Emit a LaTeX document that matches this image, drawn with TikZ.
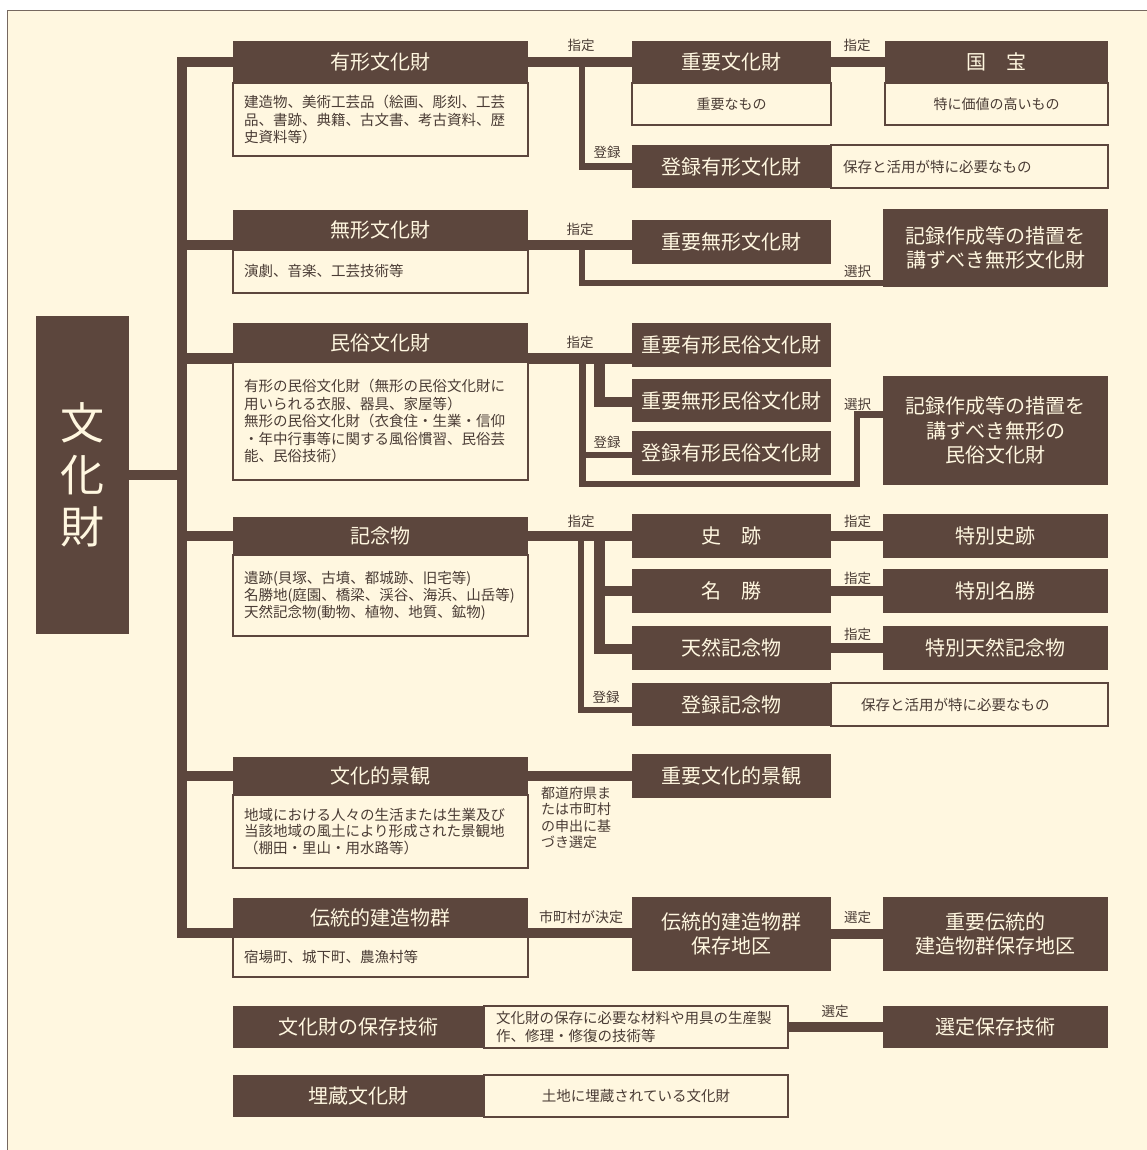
\documentclass[tikz,border=0pt]{standalone}
\usepackage{fontspec}
\setmainfont{Noto Sans CJK JP}
\definecolor{brn}{HTML}{5C463D}
\definecolor{crm}{HTML}{FFF7E0}
\definecolor{txt}{HTML}{4A3C35}
\definecolor{frm}{HTML}{766860}
\pgfdeclarelayer{bg}
\pgfdeclarelayer{lines}
\pgfsetlayers{bg,lines,main}
\begin{document}
\begin{tikzpicture}[x=1pt,y=-1pt,
  hdr/.style={fill=brn, text=crm, inner sep=0pt, align=center, font=\fontsize{20}{24}\selectfont},
  dsc/.style={fill=crm, draw=brn, line width=2pt, text=txt, inner sep=0pt, align=center, font=\fontsize{14.5}{17.5}\selectfont},
  lbl/.style={text=txt, inner sep=0pt, font=\fontsize{13.5}{16}\selectfont},
  sz/.style 2 args={minimum width=#1pt, minimum height=#2pt},
  bus/.style={draw=brn, line width=10.5pt, line join=miter},
  drop/.style={draw=brn, line width=6.5pt, line join=miter}]

\useasboundingbox (0,0) rectangle (1147,1150);
\begin{pgfonlayer}{bg}
  \fill[white] (0,0) rectangle (1147,1150);
  \clip (0,0) rectangle (1147,1150);
  \draw[frm, line width=1.5pt, fill=crm] (7.5,10.5) rectangle (1170,1170);
\end{pgfonlayer}

% ---- root
\node[hdr, sz={93}{318}, font=\fontsize{44}{52}\selectfont] (bunka) at (82.5,475) {文\\化\\財};

% ---- category description boxes
\node[dsc, sz={295}{73}, align=left, text width=273pt, inner xsep=11pt] (yukeiD) at (380.5,119.5)
  {建造物、美術工芸品（絵画、彫刻、工芸\\品、書跡、典籍、古文書、考古資料、歴\\史資料等）};
\node[dsc, sz={295}{43}, align=left, text width=273pt, inner xsep=11pt] (mukeiD) at (380.5,271.5)
  {演劇、音楽、工芸技術等};
\node[dsc, sz={295}{118}, align=left, text width=273pt, inner xsep=11pt] (minzokuD) at (380.5,421)
  {有形の民俗文化財（無形の民俗文化財に\\用いられる衣服、器具、家屋等）\\無形の民俗文化財（衣食住・生業・信仰\\・年中行事等に関する風俗慣習、民俗芸\\能、民俗技術）};
\node[dsc, sz={295}{81}, align=left, text width=273pt, inner xsep=11pt, font=\fontsize{14.5}{17}\selectfont] (kinenD) at (380.5,595.5)
  {遺跡(貝塚、古墳、都城跡、旧宅等)\\名勝地(庭園、橋梁、渓谷、海浜、山岳等)\\天然記念物(動物、植物、地質、鉱物)};
\node[dsc, sz={295}{73}, align=left, text width=273pt, inner xsep=11pt, font=\fontsize{14.5}{16.8}\selectfont] (keikanD) at (380.5,831.5)
  {地域における人々の生活または生業及び\\当該地域の風土により形成された景観地\\（棚田・里山・用水路等）};
\node[dsc, sz={295}{40}, align=left, text width=273pt, inner xsep=11pt] (dentoD) at (380.5,957)
  {宿場町、城下町、農漁村等};

% ---- category headers
\node[hdr, sz={295}{42}] (yukeiH) at (380.5,62) {有形文化財};
\node[hdr, sz={295}{40}] (mukeiH) at (380.5,230) {無形文化財};
\node[hdr, sz={295}{39}] (minzokuH) at (380.5,342.5) {民俗文化財};
\node[hdr, sz={295}{38}] (kinenH) at (380.5,536) {記念物};
\node[hdr, sz={295}{38}] (keikanH) at (380.5,776) {文化的景観};
\node[hdr, sz={295}{39}] (dentoH) at (380.5,917.5) {伝統的建造物群};

% ---- middle column
\node[dsc, sz={199}{42}, font=\fontsize{14}{17}\selectfont] (juyoD) at (731.5,104) {重要なもの};
\node[hdr, sz={199}{42}] (juyoH) at (731.5,62) {重要文化財};
\node[hdr, sz={199}{43}] (tourokuY) at (731.5,166.5) {登録有形文化財};
\node[dsc, sz={277}{43}, align=left, text width=253pt, inner xsep=12pt] (tourokuYD) at (969.5,166.5) {保存と活用が特に必要なもの};
\node[hdr, sz={199}{44}] (juyoMukei) at (731.5,242) {重要無形文化財};
\node[hdr, sz={199}{44}] (jYM) at (731.5,345) {重要有形民俗文化財};
\node[hdr, sz={199}{43}] (jMM) at (731.5,400.5) {重要無形民俗文化財};
\node[hdr, sz={199}{44}] (tMinzoku) at (731.5,453) {登録有形民俗文化財};
\node[hdr, sz={199}{44}] (shiseki) at (731.5,536) {史　跡};
\node[hdr, sz={199}{44}] (meisho) at (731.5,591) {名　勝};
\node[hdr, sz={199}{44}] (tennen) at (731.5,648) {天然記念物};
\node[hdr, sz={199}{43}] (tKinen) at (731.5,704.5) {登録記念物};
\node[dsc, sz={277}{43}, align=left, text width=217pt, inner xsep=30pt] (tKinenD) at (969.5,704.5) {保存と活用が特に必要なもの};
\node[hdr, sz={199}{44}] (jKeikan) at (731.5,776) {重要文化的景観};
\node[hdr, sz={199}{74}] (hozonChiku) at (731.5,934) {伝統的建造物群\\保存地区};

% ---- right column
\node[dsc, sz={223}{42}, font=\fontsize{14}{17}\selectfont] (kokuhoD) at (996.5,104) {特に価値の高いもの};
\node[hdr, sz={223}{42}] (kokuhoH) at (996.5,62) {国　宝};
\node[hdr, sz={225}{78}] (kirokuM) at (995.5,248) {記録作成等の措置を\\講ずべき無形文化財};
\node[hdr, sz={225}{109}, font=\fontsize{20}{24.5}\selectfont] (kirokuMin) at (995.5,430.5) {記録作成等の措置を\\講ずべき無形の\\民俗文化財};
\node[hdr, sz={225}{44}] (tokuShiseki) at (995.5,536) {特別史跡};
\node[hdr, sz={225}{44}] (tokuMeisho) at (995.5,591) {特別名勝};
\node[hdr, sz={225}{44}] (tokuTennen) at (995.5,648) {特別天然記念物};
\node[hdr, sz={225}{74}] (jDento) at (995.5,934) {重要伝統的\\建造物群保存地区};

% ---- bottom rows
\node[dsc, sz={304}{42}, align=left, text width=280pt, inner xsep=12pt, font=\fontsize{14.5}{18}\selectfont] (hozonGD) at (636,1027)
  {文化財の保存に必要な材料や用具の生産製\\作、修理・修復の技術等};
\node[hdr, sz={251}{42}] (hozonGH) at (358.5,1027) {文化財の保存技術};
\node[hdr, sz={225}{42}] (senteiG) at (995.5,1027) {選定保存技術};
\node[dsc, sz={304}{42}] (maizoD) at (636,1096) {土地に埋蔵されている文化財};
\node[hdr, sz={251}{42}] (maizoH) at (358.5,1096) {埋蔵文化財};

% ---- labels
\node[lbl] (l1) at (581,45.5) {指定};
\node[lbl] (l2) at (857,45.5) {指定};
\node[lbl] (l3) at (607,152) {登録};
\node[lbl] (l4) at (580,229) {指定};
\node[lbl] (l5) at (857.5,271) {選択};
\node[lbl] (l6) at (580,342) {指定};
\node[lbl] (l7) at (607,442) {登録};
\node[lbl] (l8) at (857.5,404) {選択};
\node[lbl] (l9) at (581,521) {指定};
\node[lbl] (l10) at (857.5,521) {指定};
\node[lbl] (l11) at (857.5,578) {指定};
\node[lbl] (l12) at (857.5,634) {指定};
\node[lbl] (l13) at (606,697) {登録};
\node[lbl, align=left, anchor=west, font=\fontsize{14}{16.5}\selectfont] (l14) at (541,817.5) {都道府県ま\\たは市町村\\の申出に基\\づき選定};
\node[lbl, font=\fontsize{14}{16}\selectfont] (l15) at (581,917) {市町村が決定};
\node[lbl] (l16) at (857.5,917) {選定};
\node[lbl] (l17) at (835,1011) {選定};

% ---- connectors
\begin{pgfonlayer}{lines}
  \coordinate (tBot) at (182,933);
  \coordinate (tMu) at (182,245);
  \coordinate (tMin) at (182,358.5);
  \draw[bus] (yukeiH.west) -| (tBot) -- (tBot -| dentoH.west);
  \draw[bus] (bunka.east) -- (bunka.east -| tBot);
  \draw[bus] (tMu) -- (tMu -| mukeiH.west);
  \draw[bus] (tMin) -- (tMin -| minzokuH.west);
  \draw[bus] (kinenH.west -| tBot) -- (kinenH.west);
  \draw[bus] (keikanH.west -| tBot) -- (keikanH.west);
  % yukei
  \draw[bus] (yukeiH.east) -- (juyoH.west);
  \draw[bus] (juyoH.east) -- (kokuhoH.west);
  \coordinate (dY) at (582,62);
  \draw[drop] (dY) |- (tourokuY.west);
  % mukei
  \draw[bus] (mukeiH.east |- tMu) -- (juyoMukei.west |- tMu);
  \coordinate (dMu) at (582,245);
  \coordinate (dMuB) at (582,283);
  \draw[drop] (dMu) -- (dMuB) -- (dMuB -| kirokuM.west);
  % minzoku
  \draw[bus] (minzokuH.east |- tMin) -- (jYM.west |- tMin);
  \coordinate (dMi) at (582.5,358.5);
  \coordinate (dMiB) at (582.5,484);
  \coordinate (dMiR) at (857,484);
  \coordinate (dMiT) at (857,414.5);
  \draw[drop] (dMi) -- (dMiB) -- (dMiR) -- (dMiT) -- (dMiT -| kirokuMin.west);
  \coordinate (dMiL) at (582.5,455);
  \draw[drop] (dMiL) -- (dMiL -| tMinzoku.west);
  \coordinate (iMi) at (599.5,358.5);
  \coordinate (iMiB) at (599.5,402);
  \draw[bus] (iMi) -- (iMiB) -- (iMiB -| jMM.west);
  % kinen
  \draw[bus] (kinenH.east) -- (shiseki.west);
  \draw[bus] (shiseki.east) -- (tokuShiseki.west);
  \draw[bus] (meisho.east) -- (tokuMeisho.west);
  \draw[bus] (tennen.east) -- (tokuTennen.west);
  \coordinate (dK) at (581,536);
  \coordinate (dKB) at (581,710);
  \draw[drop] (dK) -- (dKB) -- (dKB -| tKinen.west);
  \coordinate (iK) at (599.5,536);
  \coordinate (iKB) at (599.5,649);
  \draw[bus] (iK) -- (iKB) -- (iKB -| tennen.west);
  \draw[bus] (iK |- meisho.west) -- (meisho.west);
  % keikan
  \draw[bus] (keikanH.east) -- (jKeikan.west);
  % dento
  \draw[bus] (dentoH.east |- tBot) -- (hozonChiku.west |- tBot);
  \draw[bus] (hozonChiku.east) -- (jDento.west);
  % hozon gijutsu
  \draw[bus] (hozonGD.east) -- (senteiG.west);
\end{pgfonlayer}
\end{tikzpicture}
\end{document}
